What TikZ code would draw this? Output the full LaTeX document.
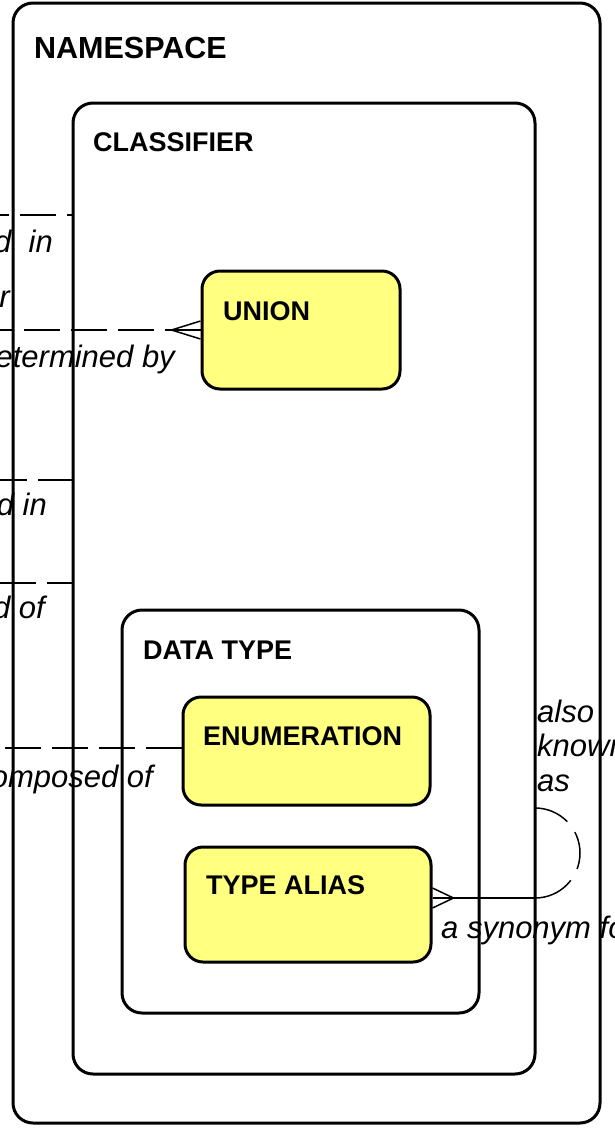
\documentclass[tikz,border=0pt]{standalone}
\usepackage{fontspec}
\setmainfont{Liberation Sans}
\usetikzlibrary{calc}
\definecolor{boxyellow}{RGB}{255,255,128}
\begin{document}
\begin{tikzpicture}[x=1pt,y=-1pt,
  container/.style={draw, line width=3pt, rounded corners=20pt, inner sep=0pt},
  ybox/.style={draw, line width=3pt, rounded corners=18pt, fill=boxyellow, inner sep=0pt},
  title/.style={anchor=base west, inner sep=0pt, font=\bfseries\fontsize{27}{32}\selectfont},
  rel/.style={inner sep=0pt, font=\itshape\fontsize{31}{36}\selectfont},
  conn/.style={line width=1.5pt, dash pattern=on 36pt off 11pt},
  solidconn/.style={line width=1.5pt},
  ]
\fill[white] (0,0) rectangle (614,1128);
\useasboundingbox (0,0) rectangle (614,1128);

% containers
\node[container, minimum width=587pt, minimum height=1120pt] (ns) at (306.5,563) {};
\node[container, minimum width=462pt, minimum height=971pt] (cls) at (304,588.5) {};
\node[container, minimum width=357pt, minimum height=403pt] (dt) at (300.5,811.5) {};

% entity boxes
\node[ybox, minimum width=198pt, minimum height=118pt] (un) at (301,330) {};
\node[ybox, minimum width=247pt, minimum height=108pt] (en) at (306.5,751) {};
\node[ybox, minimum width=246pt, minimum height=115pt] (ta) at (308,904.5) {};

% titles
\node[title, font=\bfseries\fontsize{30.5}{36}\selectfont] (nst) at (34,58) {NAMESPACE};
\node[title] (clst) at (93,151) {CLASSIFIER};
\node[title] (unt) at (223,320) {UNION};
\node[title] (dtt) at (143,659) {DATA TYPE};
\node[title] (ent) at (203,745) {ENUMERATION};
\node[title] (tat) at (206,894) {TYPE ALIAS};

% connectors from the left
\coordinate (e1) at (-10,215);
\coordinate (e2) at (-10,330);
\coordinate (e3) at (-10,480);
\coordinate (e4) at (-10,583);
\coordinate (e5) at (-10,748);
\draw[conn, dash phase=31pt] (cls.west |- e1) -- (e1);
\draw[conn] (un.west) -- (e2);
\path (un.west) ++(-29,0) coordinate (u1);
\draw[solidconn] ($(un.west)+(0,-9)$) -- (u1) -- ($(un.west)+(0,9)$);
\draw[conn, dash phase=2pt] (cls.west |- e3) -- (e3);
\draw[conn, dash phase=11pt] (cls.west |- e4) -- (e4);
\draw[conn] (en.west |- e5) -- (e5);

% TYPE ALIAS loop
\coordinate (tay) at (0,898);
\coordinate (lb) at (535,898);
\coordinate (lt) at (535,808);
\coordinate (tae) at (ta.east |- tay);
\path (tae) ++(21,0) coordinate (tcf);
\draw[solidconn] (tae) -- (lb);
\draw[solidconn] ($(tae)+(0,-10)$) -- (tcf) -- ($(tae)+(0,10)$);
\draw[line width=1.5pt, dash pattern=on 36pt off 13pt on 38pt off 13pt on 300pt]
  (lt) .. controls (559.85,808) and (580,828.15) .. (580,853)
       .. controls (580,877.85) and (559.85,898) .. (lb);

% relationship labels
\node[rel, anchor=base east] (r1) at (53,252) {defined\ \ in};
\node[rel, anchor=base east] (r2) at (10,307) {for};
\node[rel, anchor=base east] (r3) at (175,367) {determined by};
\node[rel, anchor=base east] (r4) at (47,515) {defined in};
\node[rel, anchor=base east] (r5) at (45,618) {composed of};
\node[rel, anchor=base east] (r6) at (153,787) {composed of};
\node[rel, anchor=base west] (r7) at (537,722) {also};
\node[rel, anchor=base west] (r8) at (537,756) {known};
\node[rel, anchor=base west] (r9) at (537,791) {as};
\node[rel, anchor=base west] (r10) at (441,938) {a synonym for};
\end{tikzpicture}
\end{document}
